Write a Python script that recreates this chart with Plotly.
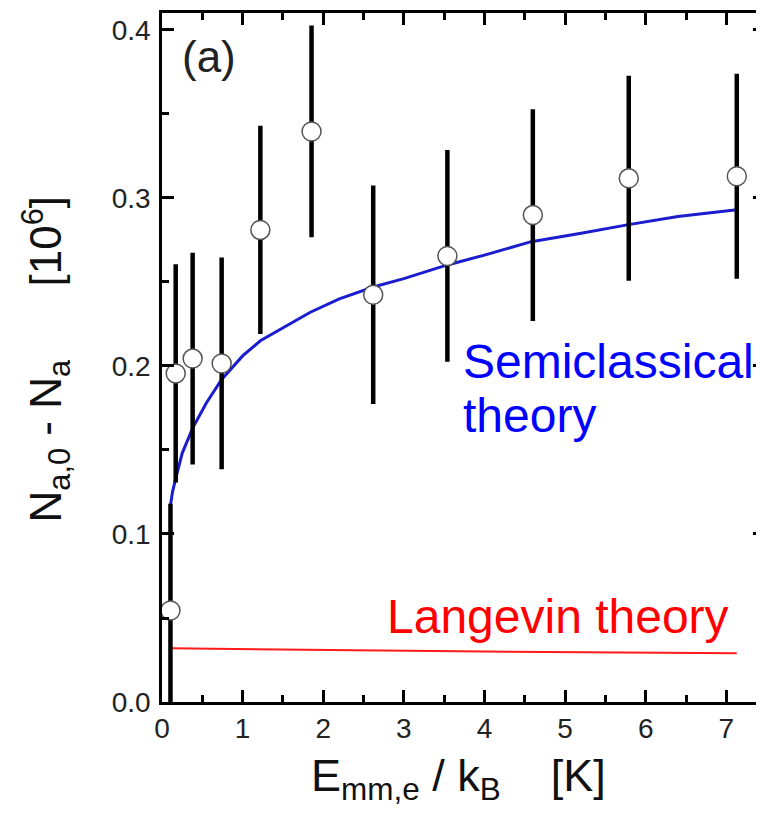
import plotly.graph_objects as go

# measured data
energy = [0.105, 0.17, 0.38, 0.74, 1.22, 1.855, 2.62, 3.54, 4.60, 5.79, 7.13]
depletion = [0.0545, 0.1956, 0.2044, 0.2015, 0.281, 0.3396, 0.2424, 0.2655, 0.2898, 0.3117, 0.3129]
depletion_err = [0.0635, 0.065, 0.063, 0.063, 0.062, 0.063, 0.065, 0.063, 0.063, 0.061, 0.061]

# semiclassical theory curve
semi_x = [0.105, 0.13, 0.17, 0.25, 0.38, 0.55, 0.74, 0.85, 1.0, 1.22, 1.47, 1.84, 2.2, 2.62,
          3.0, 3.53, 4.0, 4.58, 5.2, 5.77, 6.4, 7.13]
semi_y = [0.117, 0.125, 0.133, 0.148, 0.163, 0.178, 0.192, 0.198, 0.206, 0.215, 0.222, 0.232,
          0.240, 0.247, 0.252, 0.260, 0.266, 0.274, 0.279, 0.284, 0.289, 0.293]

# Langevin theory curve
lang_x = [0.105, 2.0, 4.0, 7.13]
lang_y = [0.032, 0.031, 0.030, 0.029]

FONT = "Arial, Liberation Sans, sans-serif"

W, H = 764, 819
OFF = 8  # page body margin
L, R, T, B = 154, 7, 2, 125
PW, PH = W - L - R, H - T - B
X_MAX = 7.48
Y_MAX = 0.4101


def px(xp):
    return (xp - OFF - L) / PW


def py(yp):
    return (OFF + T + PH - yp) / PH


fig = go.Figure()

fig.add_trace(go.Scatter(
    x=semi_x, y=semi_y, mode="lines",
    line=dict(color="#1c1ccf", width=3), showlegend=False, hoverinfo="skip"))
fig.add_trace(go.Scatter(
    x=lang_x, y=lang_y, mode="lines",
    line=dict(color="#ff1a1a", width=2), showlegend=False, hoverinfo="skip"))
fig.add_trace(go.Scatter(
    x=energy, y=depletion, mode="markers",
    error_y=dict(type="data", array=depletion_err, visible=True,
                 color="black", thickness=4.5, width=0),
    marker=dict(size=19, color="white", line=dict(color="#555555", width=1.5)),
    showlegend=False))
# empty trace to anchor the right-hand tick axis
fig.add_trace(go.Scatter(x=[], y=[], yaxis="y2", showlegend=False, hoverinfo="skip"))

tick_common = dict(
    ticks="inside", ticklen=12, tickwidth=2.5, tickcolor="black",
    showgrid=False, zeroline=False,
    tickfont=dict(family=FONT, size=28, color="#222222"),
)

fig.update_layout(
    xaxis=dict(
        range=[0, X_MAX], tick0=0, dtick=1,
        showline=True, linecolor="black", linewidth=2.5, mirror="ticks",
        minor=dict(ticks="inside", ticklen=7, tickwidth=2.5, tickcolor="black", dtick=0.5),
        **tick_common),
    yaxis=dict(
        range=[0, Y_MAX], tick0=0, dtick=0.1, tickformat=".1f",
        showline=True, linecolor="black", linewidth=2.5, mirror=False,
        ticklabelstandoff=3,
        minor=dict(ticks="inside", ticklen=7, tickwidth=2.5, tickcolor="black", dtick=0.05),
        **tick_common),
    yaxis2=dict(
        overlaying="y", side="right", range=[0, Y_MAX], tick0=0, dtick=0.1,
        showline=False, showticklabels=False,
        minor=dict(ticks="inside", ticklen=7, tickwidth=2.5, tickcolor="black", dtick=0.05),
        **tick_common),
)

annotations = [
    dict(text="(a)", x=px(180), y=py(54), xanchor="left", yanchor="middle",
         font=dict(family=FONT, size=44, color="#222222")),
    dict(text="Semiclassical", x=px(461), y=py(360), xanchor="left", yanchor="middle",
         font=dict(family=FONT, size=48, color="#0000ff")),
    dict(text="theory", x=px(461), y=py(414), xanchor="left", yanchor="middle",
         font=dict(family=FONT, size=48, color="#0000ff")),
    dict(text="Langevin theory", x=px(385), y=py(616), xanchor="left", yanchor="middle",
         font=dict(family=FONT, size=48, color="#ff0000")),
    dict(text="E<sub>mm,e</sub> / k<sub>B</sub>&nbsp;&nbsp;&nbsp;&nbsp;[K]",
         x=px(458), y=py(779), xanchor="center", yanchor="middle",
         font=dict(family=FONT, size=45, color="#111111")),
    dict(text="N<sub>a,0</sub> - N<sub>a</sub>&nbsp;&nbsp;&nbsp;&nbsp;&nbsp;&nbsp;[10<sup>6</sup>]",
         x=px(46), y=py(357), xanchor="center", yanchor="middle", textangle=-90,
         font=dict(family=FONT, size=44, color="#111111")),
]
for a in annotations:
    a.update(xref="paper", yref="paper", showarrow=False)

fig.update_layout(
    width=W, height=H,
    margin=dict(l=L, r=R, t=T, b=B, pad=0),
    paper_bgcolor="white", plot_bgcolor="white",
    annotations=annotations,
)

fig.write_html("out.html")
